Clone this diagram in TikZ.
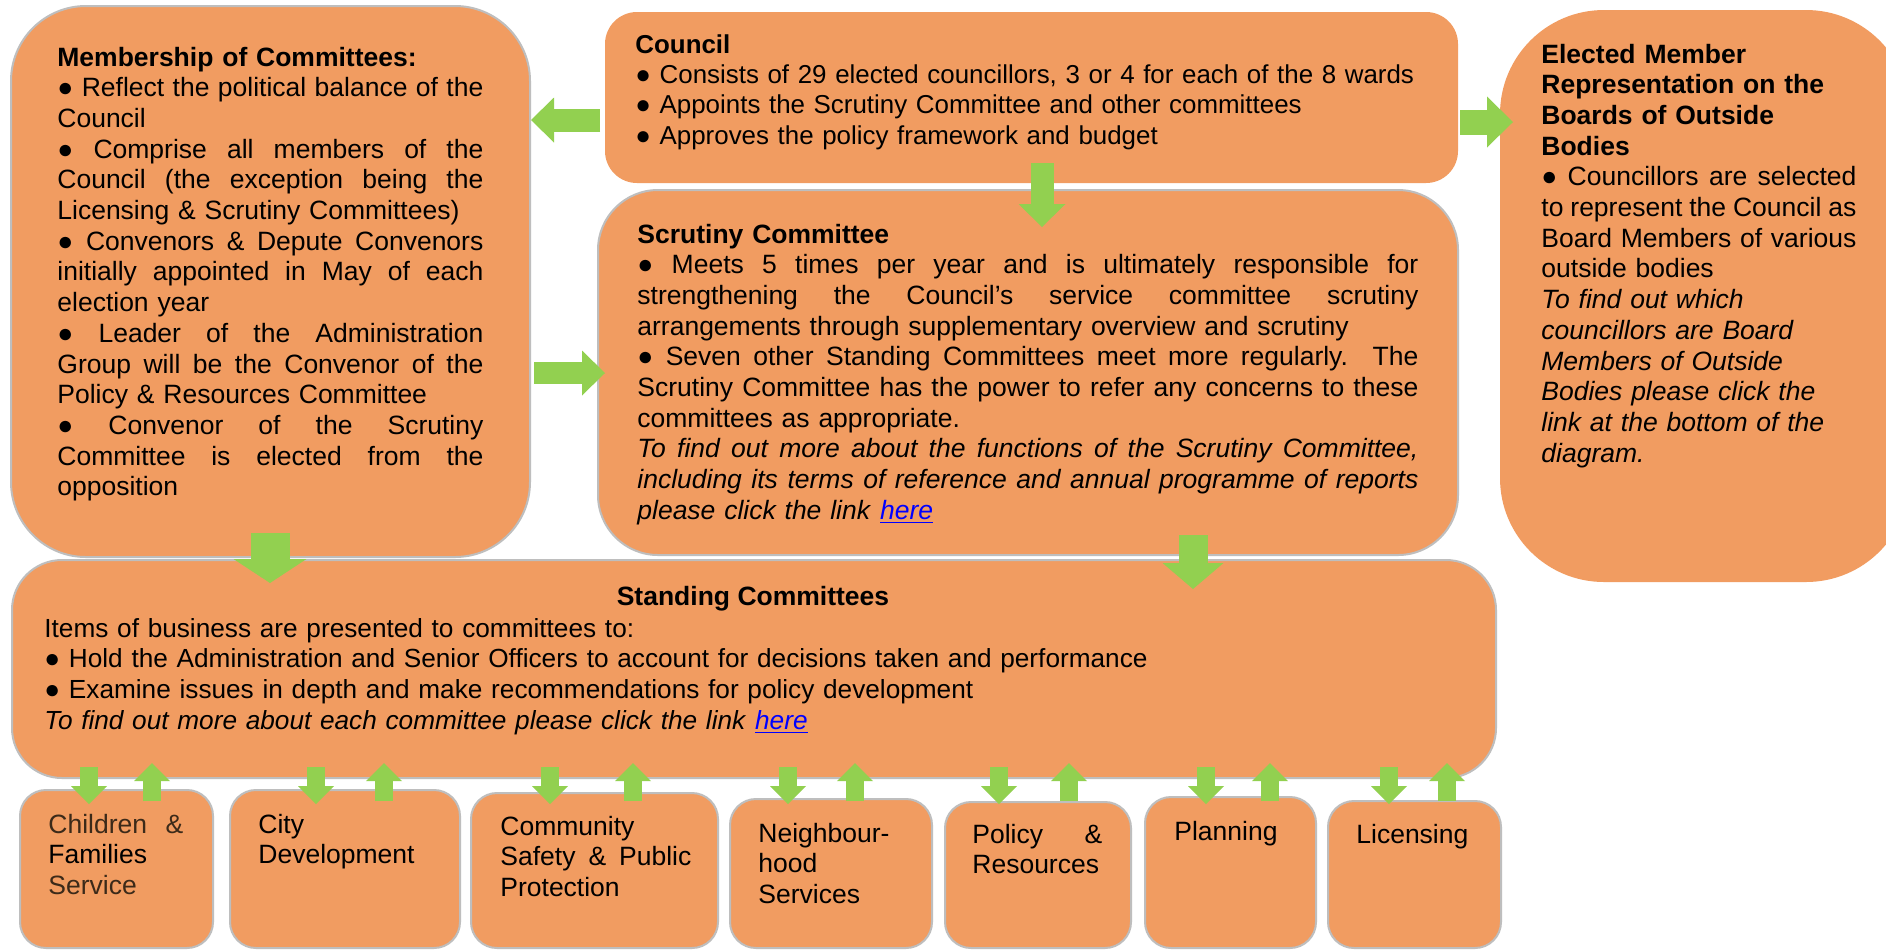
\documentclass[tikz,border=0pt]{standalone}
\usepackage{fontspec}
\setmainfont{Liberation Sans}
\usetikzlibrary{arrows.meta,fit}
\definecolor{boxorange}{RGB}{241,156,97}
\definecolor{arrowgreen}{RGB}{146,208,80}
\definecolor{edgegray}{RGB}{190,190,190}
\definecolor{linkblue}{RGB}{0,0,255}
\definecolor{browntext}{RGB}{60,42,25}
\newcommand{\JL}[1]{\leavevmode\hbox to \hsize{\spaceskip=0pt\xspaceskip=0pt #1}}
\newcommand{\bul}{●\ }
\newcommand{\lnk}[1]{\textcolor{linkblue}{\underline{#1}}}
\tikzset{
  box/.style={draw=edgegray, line width=1pt, fill=boxorange, inner sep=0pt},
  plainbox/.style={draw=none, fill=boxorange, inner sep=0pt},
  txt/.style={inner sep=0pt, anchor=base west,
    font={\fontsize{13.25}{15.35}\selectfont\parindent=0pt\spaceskip=0pt\xspaceskip=0pt}},
  blockarrow/.style n args={3}{draw=arrowgreen, line width=#1,
     -{Triangle[width=#2, length=#3, line width=0pt, fill=arrowgreen]}},
  smallarrow/.style={blockarrow={9pt}{18pt}{9pt}}
}
\begin{document}
\begin{tikzpicture}[x=0.5pt,y=-0.5pt]
\useasboundingbox (0,0) rectangle (1886,950);
\clip (0,0) rectangle (1886,950);
\fill[white] (0,0) rectangle (1886,950);

% main boxes
\node[box, fit={(11,6) (530,557)}, rounded corners=37.5pt] (member) {};
\node[plainbox, fit={(605,12) (1458,183)}, rounded corners=16pt] (council) {};
\node[box, fit={(598,190) (1458,555)}, rounded corners=30pt] (scrutiny) {};
\node[plainbox, fit={(1500,10) (1910,582)}, rounded corners=52pt] (elected) {};
\node[box, fit={(12,560) (1496,778)}, rounded corners=25pt] (standing) {};

% bottom boxes
\node[box, fit={(20,790) (213,948)}, rounded corners=13pt] (children) {};
\node[box, fit={(230,790) (460,948)}, rounded corners=13pt] (city) {};
\node[box, fit={(471,793) (718,948)}, rounded corners=13pt] (community) {};
\node[box, fit={(730,799) (932,948)}, rounded corners=13pt] (neighbour) {};
\node[box, fit={(945,802) (1131,948)}, rounded corners=13pt] (policy) {};
\node[box, fit={(1145,797) (1316,948)}, rounded corners=13pt] (planning) {};
\node[box, fit={(1328,801) (1501,948)}, rounded corners=13pt] (licensing) {};

% texts
\node[txt, text width=213pt] (membertext) at (57,66) {%
\textbf{Membership of Committees:}\\
\JL{\bul Reflect the political balance of the}\\
Council\\
\JL{\bul Comprise all members of the}\\
\JL{Council (the exception being the}\\
Licensing \& Scrutiny Committees)\\
\JL{\bul Convenors \& Depute Convenors}\\
\JL{initially appointed in May of each}\\
election year\\
\JL{\bul Leader of the Administration}\\
\JL{Group will be the Convenor of the}\\
Policy \& Resources Committee\\
\JL{\bul Convenor of the Scrutiny}\\
\JL{Committee is elected from the}\\
opposition};

\node[txt, text width=400pt, font={\fontsize{12.95}{15.2}\selectfont}] (counciltext) at (635,53) {%
\textbf{Council}\\
\bul Consists of 29 elected councillors, 3 or 4 for each of the 8 wards\\
\bul Appoints the Scrutiny Committee and other committees\\
\bul Approves the policy framework and budget};

\node[txt, text width=390.5pt] (scrutinytext) at (637,243) {%
\textbf{Scrutiny Committee}\\
\JL{\bul Meets 5 times per year and is ultimately responsible for}\\
\JL{strengthening the Council’s service committee scrutiny}\\
arrangements through supplementary overview and scrutiny\\
\JL{\bul Seven other Standing Committees meet more regularly.\ \ The}\\
\JL{Scrutiny Committee has the power to refer any concerns to these}\\
committees as appropriate.\\
\JL{\itshape To find out more about the functions of the Scrutiny Committee,}\\
\JL{\itshape including its terms of reference and annual programme of reports}\\
\textit{please click the link} \lnk{\textit{here}}};

\node[txt, text width=157.5pt] (electedtext) at (1541,63) {%
\textbf{Elected Member}\\
\textbf{Representation on the}\\
\textbf{Boards of Outside}\\
\textbf{Bodies}\\
\JL{\bul Councillors are selected}\\
\JL{to represent the Council as}\\
\JL{Board Members of various}\\
outside bodies\\
\textit{To find out which}\\
\textit{councillors are Board}\\
\textit{Members of Outside}\\
\textit{Bodies please click the}\\
\textit{link at the bottom of the}\\
\textit{diagram.}};

\node[txt, anchor=base] (standingtitle) at (753,605) {\textbf{Standing Committees}};
\node[txt, text width=560pt, font={\fontsize{13.1}{15.35}\selectfont}] (standingtext) at (44,637) {%
Items of business are presented to committees to:\\
\bul Hold the Administration and Senior Officers to account for decisions taken and performance\\
\bul Examine issues in depth and make recommendations for policy development\\
\textit{To find out more about each committee please click the link} \lnk{\textit{here}}};

\node[txt, text width=67.5pt] (childrentext) at (48,833) {%
\JL{\color{browntext}Children \&}\\
Families\\
{\color{browntext}Service}};
\node[txt, text width=95pt] (citytext) at (258,833) {City\\Development};
\node[txt, text width=95.5pt] (communitytext) at (500,835) {%
Community\\
\JL{Safety \& Public}\\
Protection};
\node[txt, text width=80pt] (neighbourtext) at (758,842) {Neighbour-\\hood\\Services};
\node[txt, text width=65pt] (policytext) at (972,843) {\JL{Policy \&}\\Resources};
\node[txt, text width=70pt] (planningtext) at (1174,840) {Planning};
\node[txt, text width=70pt] (licensingtext) at (1356,843) {Licensing};

% big arrows
\coordinate (a1s) at (600,120);
\draw[blockarrow={11.5pt}{22.5pt}{11.5pt}] (a1s) -- (member.east |- a1s);
\coordinate (a2s) at (534,373); \coordinate (a2e) at (605,373);
\draw[blockarrow={11pt}{22.5pt}{11.5pt}] (a2s) -- (a2e);
\coordinate (a3s) at (1460,122); \coordinate (a3e) at (1513,122);
\draw[blockarrow={12.5pt}{25.5pt}{13pt}] (a3s) -- (a3e);
\coordinate (a4s) at (1042,163); \coordinate (a4e) at (1042,227);
\draw[blockarrow={11.5pt}{23.5pt}{11.5pt}] (a4s) -- (a4e);
\coordinate (a5s) at (270,533); \coordinate (a5e) at (270,583);
\draw[blockarrow={19.5pt}{36.5pt}{12pt}] (a5s) -- (a5e);
\coordinate (a6s) at (1193,535); \coordinate (a6e) at (1193,589);
\draw[blockarrow={14.5pt}{30.5pt}{13pt}] (a6s) -- (a6e);

% small arrow pairs
\foreach \d/\u/\n in {89/152/children, 316/384/city, 550/633/community, 788/855/neighbour,
                      999/1069/policy, 1206/1270/planning, 1389/1447/licensing}{
  \coordinate (\n-ds) at (\d,767); \coordinate (\n-de) at (\d,804);
  \coordinate (\n-us) at (\u,801); \coordinate (\n-ue) at (\u,763);
  \draw[smallarrow] (\n-ds) -- (\n-de);
  \draw[smallarrow] (\n-us) -- (\n-ue);
}
\end{tikzpicture}
\end{document}
